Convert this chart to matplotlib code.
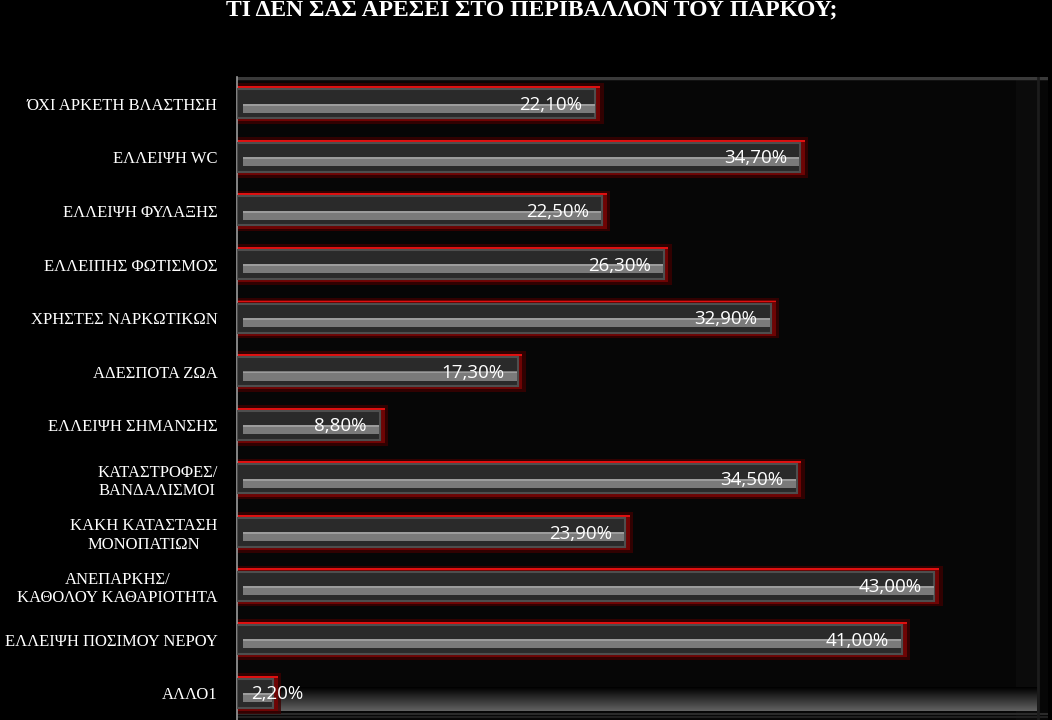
import numpy as np
import matplotlib
matplotlib.use("Agg")
import matplotlib.pyplot as plt

categories = [
    "ΌΧΙ ΑΡΚΕΤΗ ΒΛΑΣΤΗΣΗ",
    "ΕΛΛΕΙΨΗ WC",
    "ΕΛΛΕΙΨΗ ΦΥΛΑΞΗΣ",
    "ΕΛΛΕΙΠΗΣ ΦΩΤΙΣΜΟΣ",
    "ΧΡΗΣΤΕΣ ΝΑΡΚΩΤΙΚΩΝ",
    "ΑΔΕΣΠΟΤΑ ΖΩΑ",
    "ΕΛΛΕΙΨΗ ΣΗΜΑΝΣΗΣ",
    "ΚΑΤΑΣΤΡΟΦΕΣ/\nΒΑΝΔΑΛΙΣΜΟΙ",
    "ΚΑΚΗ ΚΑΤΑΣΤΑΣΗ\nΜΟΝΟΠΑΤΙΩΝ",
    "ΑΝΕΠΑΡΚΗΣ/\nΚΑΘΟΛΟΥ ΚΑΘΑΡΙΟΤΗΤΑ",
    "ΕΛΛΕΙΨΗ ΠΟΣΙΜΟΥ ΝΕΡΟΥ",
    "ΑΛΛΟ1",
]
values = [22.1, 34.7, 22.5, 26.3, 32.9, 17.3, 8.8, 34.5, 23.9, 43.0, 41.0, 2.2]
value_labels = ["22,10%", "34,70%", "22,50%", "26,30%", "32,90%", "17,30%",
                "8,80%", "34,50%", "23,90%", "43,00%", "41,00%", "2,20%"]
title = "ΤΙ ΔΕΝ ΣΑΣ ΑΡΕΣΕΙ ΣΤΟ ΠΕΡΙΒΑΛΛΟΝ ΤΟΥ ΠΑΡΚΟΥ;"

fig = plt.figure(figsize=(10.52, 7.2), dpi=100, facecolor="black")
ax = fig.add_axes([237 / 1052, 0.0, 811 / 1052, 643 / 720])
ax.set_facecolor("#060606")

y = np.arange(len(categories))
v = np.array(values)

# floor gradient (3d look) and top edge of the back wall
grad = np.linspace(0, 1, 60).reshape(-1, 1)
ax.imshow(grad, extent=[0, 49.3, 11.33, 10.9], cmap="gray", vmin=0, vmax=2.6,
          aspect="auto", zorder=0.5)
ax.axhline(11.38, color="#2a2a2a", lw=1.5, zorder=0.6)
ax.axhline(11.44, color="#202020", lw=1.5, zorder=0.6)
ax.axhline(-0.48, color="#3a3a3a", lw=2.5, zorder=0.6)
ax.axvspan(48.0, 49.4, color="#0b0b0b", zorder=0.4)
ax.axvline(49.4, color="#1c1c1c", lw=2, zorder=0.6)

# bars: red glow, red rim, dark body, light stripe
ax.barh(y, v + 0.5, height=0.76, color="#3c0000", alpha=0.8, zorder=1)
ax.barh(y, v + 0.3, height=0.66, color="#6e0404", zorder=2)
ax.barh(y - 0.31, v + 0.3, height=0.035, color="#e01010", zorder=2.5)
ax.barh(y, v, height=0.54, color="#2a2a2a", edgecolor="#4e4e4e", linewidth=1.5, zorder=3)
ax.barh(y + 0.08, v - 0.45, left=0.4, height=0.17, color="#7a7a7a", zorder=4)
ax.barh(y + 0.015, v - 0.45, left=0.4, height=0.035, color="#9c9c9c", zorder=4)

for yi, vi, lab in zip(y, v, value_labels):
    if vi < 5:
        ax.text(0.9, yi + 0.02, lab, ha="left", va="center", color="white",
                fontsize=13.5, family="Open Sans", zorder=6)
    else:
        ax.text(vi - 0.8, yi + 0.02, lab, ha="right", va="center", color="white",
                fontsize=13.5, family="Open Sans", zorder=6)

ax.set_xlim(0, 50)
ax.set_ylim(11.5, -0.5)
ax.set_yticks(y)
ax.set_yticklabels(categories, color="white", fontsize=12,
                   family="Liberation Serif", multialignment="center")
ax.tick_params(axis="y", length=0, pad=14)
ax.set_xticks([])
for s in ["top", "right", "bottom"]:
    ax.spines[s].set_visible(False)
ax.spines["left"].set_color("#9a9a9a")
ax.spines["left"].set_linewidth(1.2)

fig.text(0.505, 0.986, title, ha="center", va="center", color="white",
         fontsize=17, fontweight="bold", family="Liberation Serif")

fig.savefig("out.png", dpi=100, facecolor="black")
